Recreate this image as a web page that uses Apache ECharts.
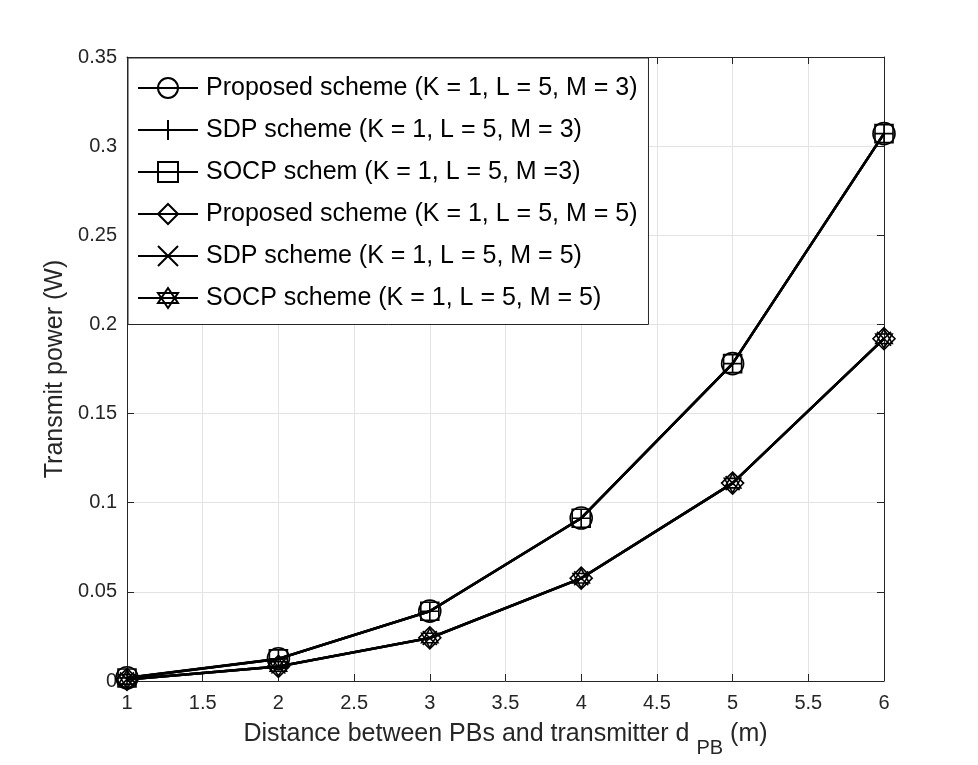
<!DOCTYPE html>
<html>
<head>
<meta charset="utf-8">
<script src="https://cdn.jsdelivr.net/npm/echarts@6/dist/echarts.min.js"></script>
<style>
  html, body { margin: 0; padding: 0; background: #fff; }
  #chart { width: 978px; height: 765px; }
</style>
</head>
<body>
<div id="chart"></div>
<script>
'use strict';

// distance d_PB (m)
let distances = [1, 2, 3, 4, 5, 6];

// transmit power (W)
let proposedM3 = [0.0018, 0.0125, 0.0392, 0.0914, 0.178, 0.307];
let sdpM3      = [0.0017, 0.0124, 0.0391, 0.0913, 0.178, 0.307];
let socpM3     = [0.0017, 0.0124, 0.0391, 0.0913, 0.178, 0.307];
let proposedM5 = [0.0009, 0.0082, 0.0242, 0.0577, 0.111, 0.192];
let sdpM5      = [0.0009, 0.0081, 0.0241, 0.0576, 0.111, 0.192];
let socpM5     = [0.0009, 0.0081, 0.0241, 0.0576, 0.111, 0.192];

let seriesNames = [
    'Proposed scheme (K = 1, L = 5, M = 3)',
    'SDP scheme (K = 1, L = 5, M = 3)',
    'SOCP schem (K = 1, L = 5, M =3)',
    'Proposed scheme (K = 1, L = 5, M = 5)',
    'SDP scheme (K = 1, L = 5, M = 5)',
    'SOCP scheme (K = 1, L = 5, M = 5)'
];

let font = 'Liberation Sans, Arial, Helvetica, sans-serif';
let axisColor = '#262626';
let gridColor = '#e3e3e3';

let plusPath = 'path://M5,0L5,10M0,5L10,5';
let crossPath = 'path://M0,0L10,10M10,0L0,10';
let hexPath = 'path://M5,0L9.33,7.5L0.67,7.5ZM5,10L0.67,2.5L9.33,2.5Z';

let makeSeries = function(name, values, symbol, size){
    return {
        name: name,
        type: 'line',
        data: distances.map(function(x, i){ return [x, values[i]]; }),
        symbol: symbol,
        symbolSize: size,
        symbolKeepAspect: true,
        showAllSymbol: true,
        lineStyle: { color: '#000', width: 2.5 },
        itemStyle: { color: 'rgba(0,0,0,0)', borderColor: '#000', borderWidth: 1.6 },
        emphasis: { disabled: true },
        animation: false,
        z: 3
    };
};

let series = [
    makeSeries(seriesNames[0], proposedM3, 'circle', 22),
    makeSeries(seriesNames[1], sdpM3, plusPath, 19),
    makeSeries(seriesNames[2], socpM3, 'rect', 18),
    makeSeries(seriesNames[3], proposedM5, 'diamond', 22),
    makeSeries(seriesNames[4], sdpM5, crossPath, 14),
    makeSeries(seriesNames[5], socpM5, hexPath, 19)
];

let baseAxis = function(extra){
    return Object.assign({
        type: 'value',
        axisLine: { show: true, onZero: false, lineStyle: { color: axisColor, width: 1 } },
        axisTick: { show: true, inside: true, length: 7, lineStyle: { color: axisColor } },
        splitLine: { show: false },
        axisLabel: { show: false }
    }, extra);
};

let chart = echarts.init(document.getElementById('chart'));

let option = {
    backgroundColor: '#fff',
    animation: false,
    textStyle: { fontFamily: font },
    grid: { left: 127, right: 94, top: 57, bottom: 84 },
    legend: {
        orient: 'vertical',
        left: 128,
        top: 58,
        padding: [17.5, 11, 14, 9],
        itemGap: 17,
        itemWidth: 60,
        itemHeight: 25,
        backgroundColor: '#fff',
        borderColor: axisColor,
        borderWidth: 1,
        selectedMode: false,
        textStyle: { fontFamily: font, fontSize: 25, color: '#000', padding: [0, 0, 0, 3] },
        data: seriesNames
    },
    xAxis: [
        baseAxis({
            min: 1, max: 6, interval: 0.5,
            position: 'bottom',
            splitLine: { show: true, lineStyle: { color: gridColor, width: 1 } },
            axisLabel: { show: true, color: axisColor, fontSize: 20, fontFamily: font, margin: 12 },
            name: '{a|Distance between PBs and transmitter d }{s|PB}{a| (m)}',
            nameLocation: 'middle',
            nameGap: 41,
            nameTextStyle: {
                rich: {
                    a: { fontFamily: font, fontSize: 25, color: axisColor, verticalAlign: 'top', lineHeight: 28 },
                    s: { fontFamily: font, fontSize: 20, color: axisColor, verticalAlign: 'top', lineHeight: 22, padding: [16, 0, 0, 0] }
                }
            }
        }),
        baseAxis({ min: 1, max: 6, interval: 0.5, position: 'top' })
    ],
    yAxis: [
        baseAxis({
            min: 0, max: 0.35, interval: 0.05,
            position: 'left',
            splitLine: { show: true, lineStyle: { color: gridColor, width: 1 } },
            axisLabel: { show: true, color: axisColor, fontSize: 20, fontFamily: font, margin: 10 },
            name: 'Transmit power (W)',
            nameLocation: 'middle',
            nameGap: 51,
            nameTextStyle: { fontFamily: font, fontSize: 25, color: axisColor }
        }),
        baseAxis({ min: 0, max: 0.35, interval: 0.05, position: 'right' })
    ],
    series: series
};

chart.setOption(option);
</script>
</body>
</html>
